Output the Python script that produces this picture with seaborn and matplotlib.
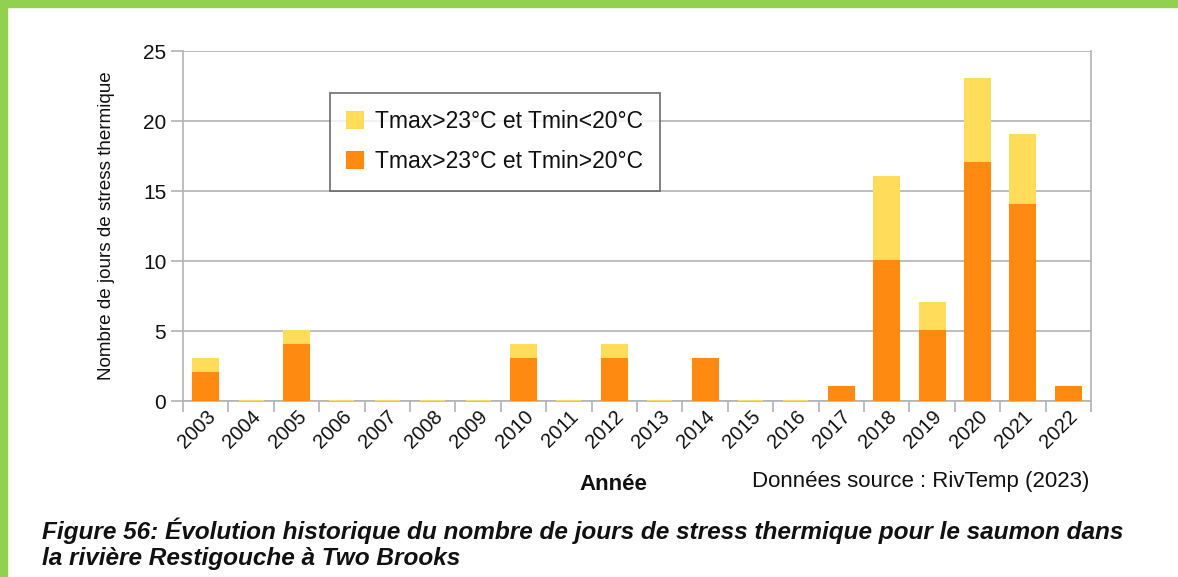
import pandas as pd
import matplotlib.pyplot as plt
import seaborn as sns
from matplotlib.patches import Rectangle
from matplotlib.ticker import FixedLocator

# data
years = [str(y) for y in range(2003, 2023)]
hot_nights = [2, 0, 4, 0, 0, 0, 0, 3, 0, 3, 0, 3, 0, 0, 1, 10, 5, 17, 14, 1]   # Tmin>20
cool_nights = [1, 0, 1, 0, 0, 0, 0, 1, 0, 1, 0, 0, 0, 0, 0, 6, 2, 6, 5, 0]     # Tmin<20
labels = ["Tmax>23°C et Tmin<20°C", "Tmax>23°C et Tmin>20°C"]

yellow = "#FFDC5A"
orange = "#FF8A12"
grid_grey = "#B3B3B3"


def main():
    df = pd.DataFrame({"year": years, "hot": hot_nights, "cool": cool_nights})
    df["total"] = df["hot"] + df["cool"]

    sns.set_style("white")
    plt.rcParams["font.family"] = ["Liberation Sans", "DejaVu Sans"]
    plt.rcParams["text.color"] = "#111111"
    plt.rcParams["axes.labelcolor"] = "#111111"
    plt.rcParams["xtick.labelcolor"] = "#111111"
    plt.rcParams["ytick.labelcolor"] = "#111111"

    fig = plt.figure(figsize=(11.78, 5.77), dpi=100)
    ax = fig.add_axes([0.1553, 0.3050, 0.9261 - 0.1553, 0.9116 - 0.3050])

    # stacked bars: total in yellow, orange part drawn over it
    sns.barplot(data=df, x="year", y="total", order=years, color=yellow,
                width=0.55, saturation=1, edgecolor=yellow, linewidth=1.5,
                label=labels[0], ax=ax, zorder=3)
    sns.barplot(data=df, x="year", y="hot", order=years, color=orange,
                width=0.55, saturation=1, edgecolor=orange, linewidth=1.5,
                label=labels[1], ax=ax, zorder=4)
    # empty orange bars should not hide the yellow zero line
    for bar in ax.containers[1]:
        if bar.get_height() == 0:
            bar.set_linewidth(0)

    ax.set_xlim(-0.5, len(years) - 0.5)
    ax.set_ylim(0, 25)
    ax.set_yticks([0, 5, 10, 15, 20, 25])
    ax.yaxis.grid(True, color=grid_grey, linewidth=1.2)
    ax.set_axisbelow(True)

    for side in ["left", "bottom", "right"]:
        ax.spines[side].set_color(grid_grey)
        ax.spines[side].set_linewidth(1.2)
    ax.spines["top"].set_visible(False)

    ax.tick_params(axis="y", which="major", length=9, width=1.2, color=grid_grey,
                   labelsize=15, pad=3, left=True)
    ax.tick_params(axis="x", which="major", length=0, labelsize=14.5, pad=4)
    ax.xaxis.set_minor_locator(FixedLocator([i - 0.5 for i in range(len(years) + 1)]))
    ax.tick_params(axis="x", which="minor", length=8, width=1.2, color=grid_grey, bottom=True)
    plt.setp(ax.get_xticklabels(), rotation=45, ha="right", rotation_mode="anchor")

    ax.set_xlabel("")
    ax.set_ylabel("Nombre de jours de stress thermique", fontsize=13.6, labelpad=20)

    leg = ax.legend(loc="upper left", bbox_to_anchor=(0.162, 0.88), fontsize=16.5,
                    frameon=True, fancybox=False, edgecolor="#555555",
                    borderaxespad=0, handlelength=0.7, handleheight=0.7,
                    handletextpad=0.5, labelspacing=0.75, borderpad=0.75)
    leg.get_frame().set_linewidth(1.3)

    fig.text(613 / 1178, 1 - 484 / 577, "Année", fontsize=16, fontweight="bold",
             ha="center", va="center")
    fig.text(752 / 1178, 1 - 482 / 577, "Données source : RivTemp (2023)", fontsize=16,
             ha="left", va="center")

    fig.text(42 / 1178, 1 - 531 / 577,
             "Figure 56: Évolution historique du nombre de jours de stress thermique pour le saumon dans",
             fontsize=17.6, fontweight="bold", fontstyle="italic", ha="left", va="center")
    fig.text(42 / 1178, 1 - 558 / 577, "la rivière Restigouche à Two Brooks",
             fontsize=17.6, fontweight="bold", fontstyle="italic", ha="left", va="center")

    # green page border on top and left
    green = "#92D050"
    fig.patches.append(Rectangle((0, 1 - 7 / 577), 1, 7 / 577, transform=fig.transFigure,
                                 color=green, zorder=0))
    fig.patches.append(Rectangle((0, 0), 7 / 1178, 1, transform=fig.transFigure,
                                 color=green, zorder=0))

    fig.savefig("out.png", dpi=100)
    plt.close()


if __name__ == "__main__":
    main()
